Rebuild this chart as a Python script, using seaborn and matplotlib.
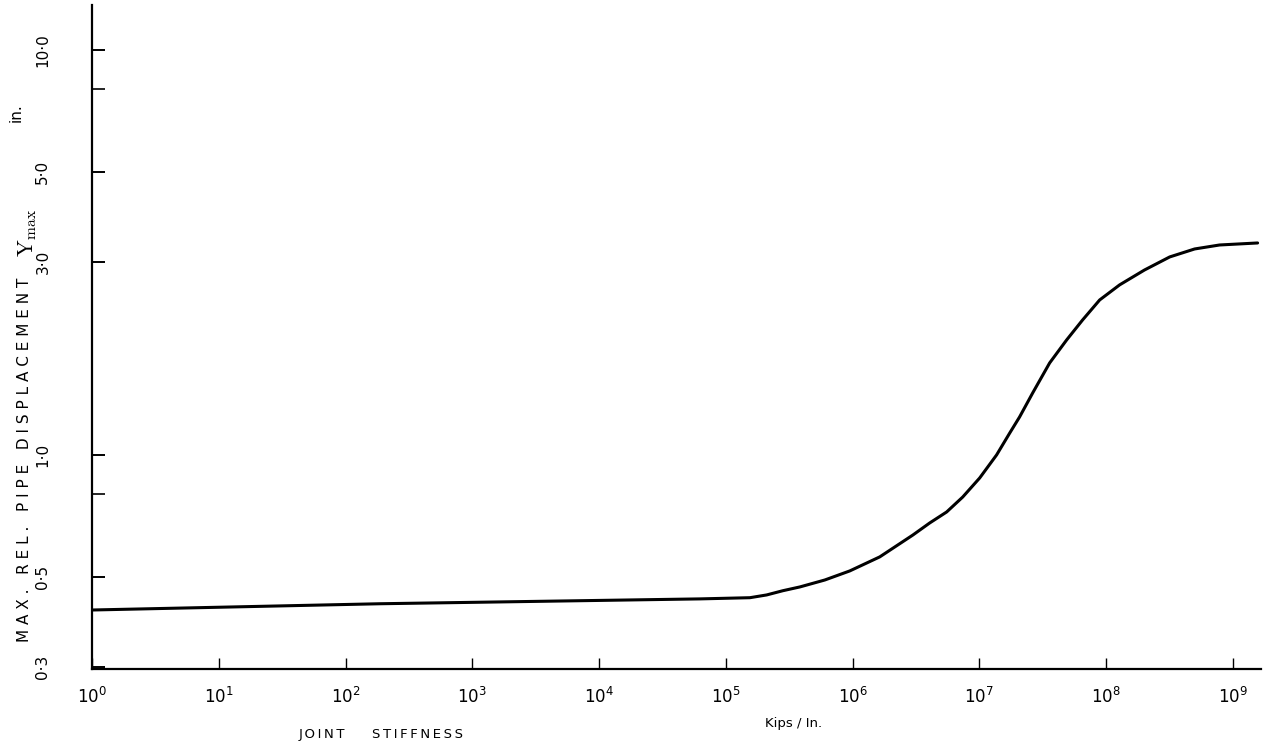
import matplotlib
matplotlib.use("Agg")
import matplotlib.pyplot as plt
import matplotlib.ticker as mticker
import seaborn as sns
import pandas as pd

# Joint stiffness (kips/in.) and maximum relative pipe displacement (in.)
stiffness = [1.0, 187.0, 6.24e4, 1.55e5, 2.10e5, 2.82e5, 3.84e5, 6.04e5, 9.51e5,
             1.64e6, 2.99e6, 4.06e6, 5.53e6, 7.40e6, 1.007e7, 1.37e7, 1.74e7,
             2.08e7, 2.64e7, 3.59e7, 4.89e7, 6.53e7, 8.91e7, 1.28e8, 2.01e8,
             3.18e8, 5.00e8, 7.87e8, 1.57e9]
displacement = [0.414, 0.429, 0.441, 0.444, 0.451, 0.462, 0.472, 0.491, 0.517,
                0.560, 0.634, 0.679, 0.723, 0.787, 0.877, 1.000, 1.133,
                1.241, 1.423, 1.687, 1.923, 2.154, 2.414, 2.630, 2.862,
                3.083, 3.226, 3.300, 3.338]

y_major = [0.3, 0.5, 1.0, 3.0, 5.0, 10.0]
y_major_labels = ["0·3", "0·5", "1·0", "3·0", "5·0", "10·0"]
y_minor = [0.8, 8.0]
x_major = [1e0, 1e1, 1e2, 1e3, 1e4, 1e5, 1e6, 1e7, 1e8, 1e9]
x_major_labels = [r"$10^{%d}$" % i for i in range(10)]

df = pd.DataFrame({"stiffness": stiffness, "displacement": displacement})

sns.set_style("white")
plt.rcParams["font.family"] = ["DejaVu Sans"]
plt.rcParams["mathtext.fontset"] = "dejavusans"

fig = plt.figure(figsize=(12.73, 7.5), dpi=100)
ax = fig.add_axes([0.0723, 0.108, 0.918, 0.885])

sns.lineplot(data=df, x="stiffness", y="displacement", ax=ax,
             color="black", linewidth=2.2, estimator=None, sort=False)

ax.set_xscale("log")
ax.set_yscale("log")
ax.set_xlim(1.0, 10 ** 9.22)
ax.set_ylim(0.296, 12.9)

for side in ("top", "right"):
    ax.spines[side].set_visible(False)
for side in ("left", "bottom"):
    ax.spines[side].set_color("black")
    ax.spines[side].set_linewidth(1.6)

ax.xaxis.set_major_locator(mticker.FixedLocator(x_major))
ax.xaxis.set_major_formatter(mticker.FixedFormatter(x_major_labels))
ax.xaxis.set_minor_locator(mticker.NullLocator())
ax.yaxis.set_major_locator(mticker.FixedLocator(y_major))
ax.yaxis.set_major_formatter(mticker.FixedFormatter(y_major_labels))
ax.yaxis.set_minor_locator(mticker.FixedLocator(y_minor))
ax.yaxis.set_minor_formatter(mticker.NullFormatter())

ax.tick_params(axis="x", which="major", direction="in", length=8, width=1.0,
               labelsize=12, pad=13, colors="black", bottom=True)
ax.tick_params(axis="y", which="major", direction="in", length=9, width=1.4,
               labelsize=11, pad=30, labelrotation=90, colors="black", left=True)
ax.tick_params(axis="y", which="minor", direction="in", length=9, width=1.2,
               colors="black", left=True)
for lbl in ax.get_yticklabels():
    lbl.set_verticalalignment("center")

ax.set_xlabel("")
ax.set_ylabel("")

# Axis titles
fig.text(0.019, 0.387, "M A X .   R E L .   P I P E   D I S P L A C E M E N T",
         rotation=90, ha="center", va="center", fontsize=11, color="black")
fig.text(0.022, 0.69, r"$\mathrm{Y}_{\mathrm{max}}$", rotation=90,
         ha="center", va="center", fontsize=16, color="black",
         math_fontfamily="cm")
fig.text(0.013, 0.85, "in.", rotation=90, ha="center", va="center",
         fontsize=11, color="black")
fig.text(0.253, 0.012, "J\u2009O\u2009I\u2009N\u2009T", ha="center", va="bottom",
         fontsize=9.5, color="black")
fig.text(0.328, 0.012, "S\u2009T\u2009I\u2009F\u2009F\u2009N\u2009E\u2009S\u2009S",
         ha="center", va="bottom", fontsize=9.5, color="black")
fig.text(0.623, 0.027, "Kips / In.", ha="center", va="bottom",
         fontsize=9.5, color="black")

fig.savefig("out.png", dpi=100, facecolor="white")
